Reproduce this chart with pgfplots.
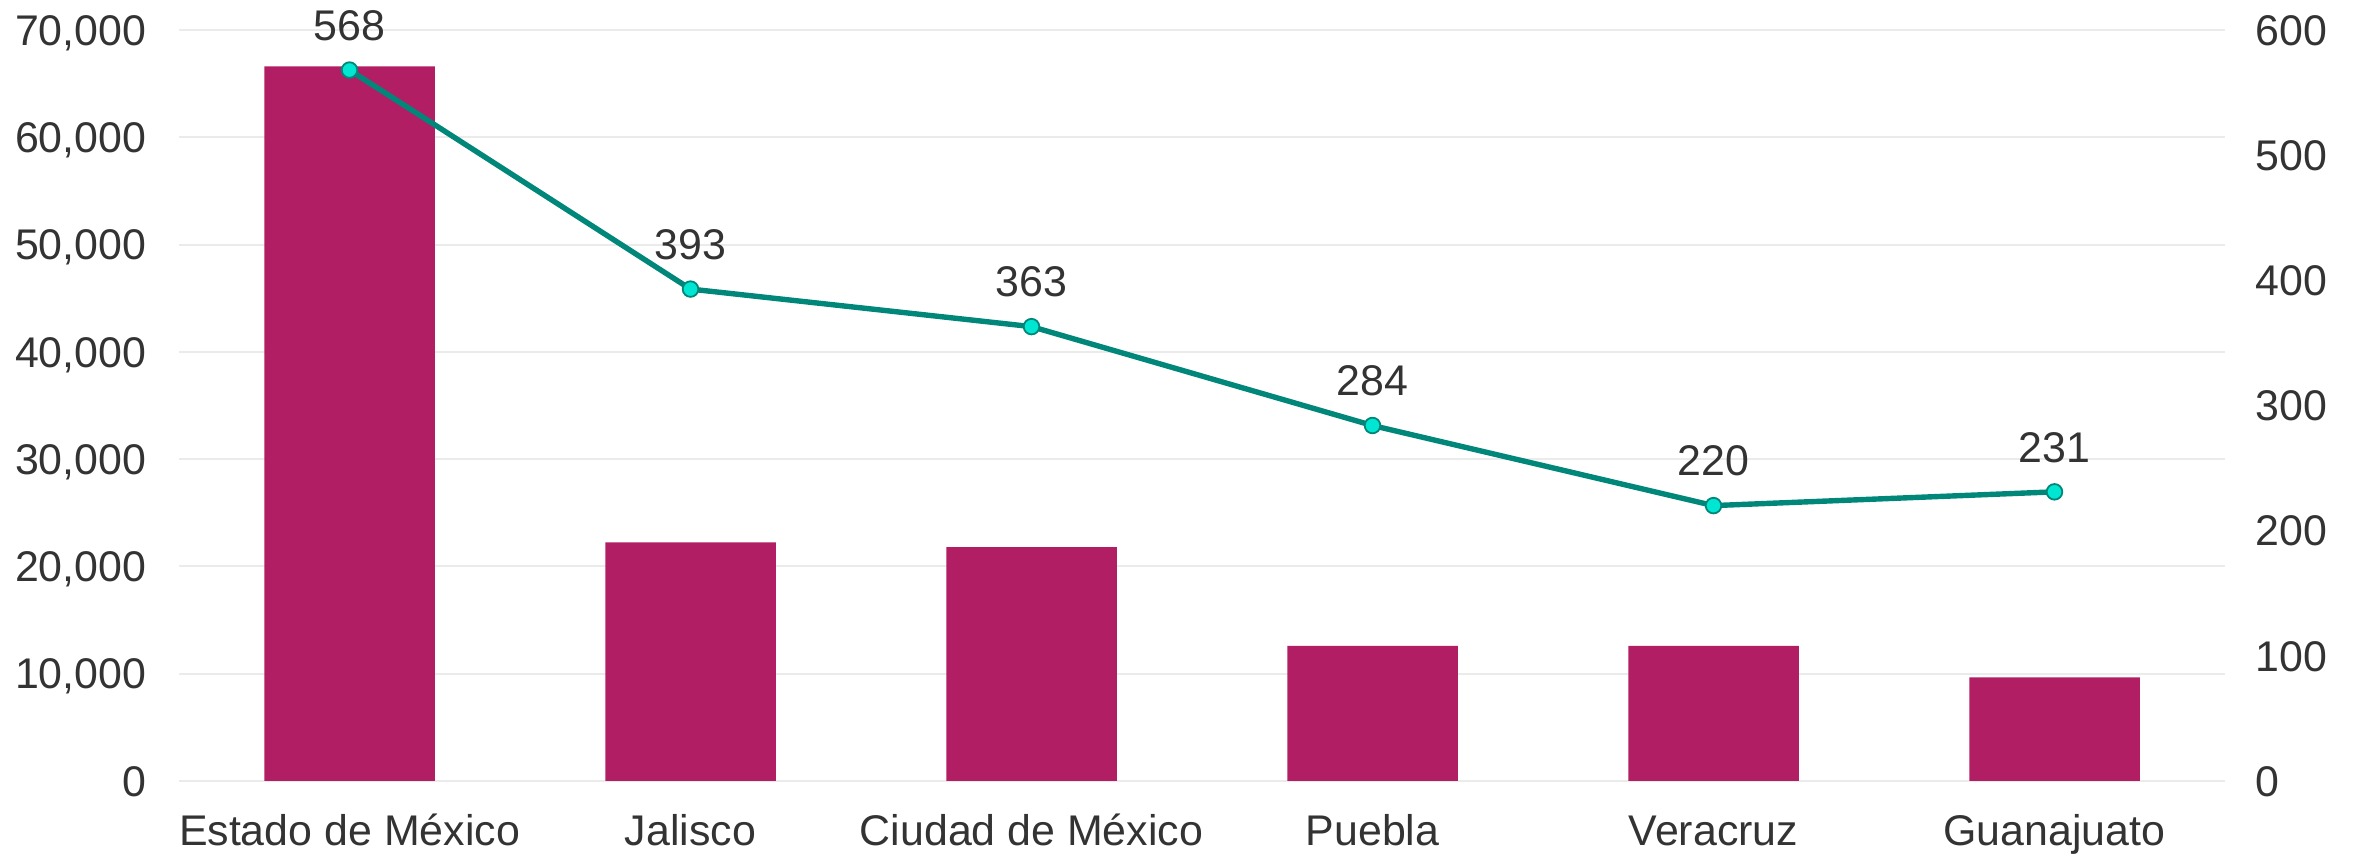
\documentclass[border=0pt]{standalone}
\usepackage{pgfplots}
\pgfplotsset{compat=1.18}
\usepackage{fontspec}
\setmainfont{Liberation Sans}
\usetikzlibrary{calc}
\definecolor{barc}{HTML}{B11E63}
\definecolor{linec}{HTML}{00877A}
\definecolor{markc}{HTML}{00E6D3}
\definecolor{txt}{HTML}{333333}
\definecolor{gridc}{HTML}{EBEBEB}
\newcommand{\lf}{\fontsize{14.3}{16}\selectfont}
\begin{document}
\begin{tikzpicture}[font=\lf]
\begin{axis}[name=main, scale only axis, width=682pt, height=250.33pt,
  xmin=-0.5, xmax=5.5, ymin=0, ymax=70000,
  xtick={0,...,5},
  xticklabels={Estado de México, Jalisco, Ciudad de México, Puebla, Veracruz, Guanajuato},
  ytick={0,10000,...,70000},
  scaled y ticks=false,
  /pgf/number format/assume math mode=true,
  /pgf/number format/1000 sep={,},
  axis x line*=bottom, axis y line*=left,
  x axis line style={draw=gridc, line width=0.7pt, -},
  y axis line style={draw=none},
  major tick length=0pt,
  ymajorgrids, grid style={draw=gridc, line width=0.7pt},
  tick label style={font=\lf, text=txt, inner sep=0pt},
  yticklabel style={anchor=east, xshift=-10.7pt, text height=10.2pt, text depth=0pt},
  xticklabel style={anchor=north, yshift=-11pt, text height=10.2pt, text depth=3pt},
  clip=false,
]
\addplot[ybar, bar width=0.5, fill=barc, draw=none] coordinates {(0,66600) (1,22250) (2,21800) (3,12600) (4,12600) (5,9650)};
\end{axis}
\begin{axis}[scale only axis, width=682pt, height=250.33pt,
  xmin=-0.5, xmax=5.5, ymin=0, ymax=600,
  axis x line=none, axis y line*=right,
  y axis line style={draw=none},
  major tick length=0pt,
  ytick={0,100,...,600},
  /pgf/number format/assume math mode=true,
  tick label style={font=\lf, text=txt, inner sep=0pt},
  yticklabel style={anchor=west, xshift=10pt, text height=10.2pt, text depth=0pt},
  clip=false,
]
\addplot[linec, line width=1.8pt, mark=*, mark size=2.6pt,
  mark options={fill=markc, draw=linec, line width=0.6pt},
  nodes near coords,
  every node near coord/.append style={font=\lf, text=txt, inner sep=0pt, anchor=south, yshift=9.5pt}]
  coordinates {(0,568) (1,393) (2,363) (3,284) (4,220) (5,231)};
\end{axis}
\path ($(main.south west)+(-59.67pt,-24.67pt)$) rectangle ($(main.north east)+(44.67pt,10pt)$);
\end{tikzpicture}
\end{document}
